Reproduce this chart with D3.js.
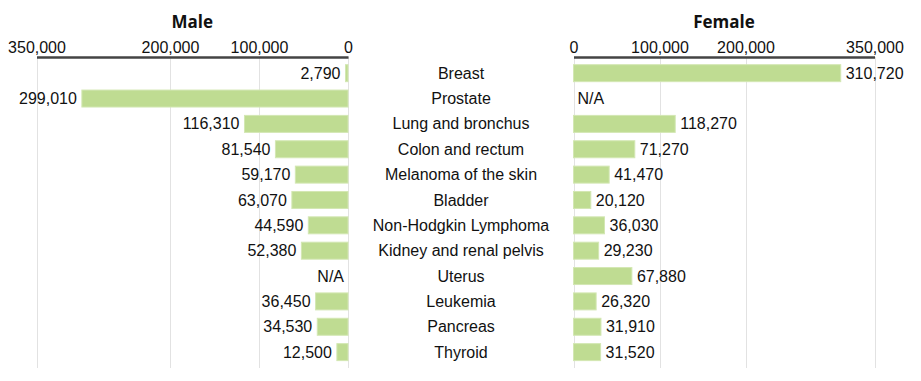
<!DOCTYPE html>
<html><head><meta charset="utf-8">
<script src="https://cdn.jsdelivr.net/npm/d3@7"></script>
<style>body{margin:0;background:#fff}svg{display:block}</style>
</head><body>
<script>
const categories = ["Breast","Prostate","Lung and bronchus","Colon and rectum","Melanoma of the skin","Bladder","Non-Hodgkin Lymphoma","Kidney and renal pelvis","Uterus","Leukemia","Pancreas","Thyroid"];
const maleValues = [2790,299010,116310,81540,59170,63070,44590,52380,null,36450,34530,12500];
const femaleValues = [310720,null,118270,71270,41470,20120,36030,29230,67880,26320,31910,31520];
const tickValues = [0,100000,200000,350000];

const W=921,H=381;
const svg=d3.select("body").append("svg").attr("width",W).attr("height",H);
const fmt=d3.format(",");
const font="Liberation Sans, Arial, sans-serif";
const fs="16px";

const y=d3.scaleBand().domain(categories).range([60.5,364.8]).paddingInner(0.33).paddingOuter(0.165);
const xm=d3.scaleLinear().domain([0,350000]).range([348,36.5]);
const xf=d3.scaleLinear().domain([0,350000]).range([573.5,874.5]);
const gridTop=57,gridBot=368;

function side(x,vals,title,dir){
  const g=svg.append("g");
  g.selectAll("line.grid").data(tickValues).join("line")
    .attr("x1",d=>Math.round(x(d))+0.5).attr("x2",d=>Math.round(x(d))+0.5)
    .attr("y1",gridTop).attr("y2",gridBot).attr("stroke","#e2e2e2").attr("stroke-width",1);
  const data=categories.map((c,i)=>({c,v:vals[i]}));
  g.selectAll("rect").data(data.filter(d=>d.v!=null)).join("rect")
    .attr("x",d=>Math.min(x(0),x(d.v))).attr("width",d=>Math.abs(x(d.v)-x(0)))
    .attr("y",d=>y(d.c)).attr("height",y.bandwidth())
    .attr("fill","#bfdc92").attr("stroke","#d3e7b3").attr("stroke-width",1);
  g.selectAll("text.val").data(data).join("text")
    .attr("x",d=>d.v==null? x(0)+dir*4 : x(d.v)+dir*5)
    .attr("y",d=>y(d.c)+y.bandwidth()/2).attr("dy","0.35em")
    .attr("text-anchor",dir<0?"end":"start")
    .style("font-family",font).style("font-size",fs).attr("fill","#111")
    .text(d=>d.v==null?"N/A":fmt(d.v));
  const ax=d3.axisTop(x).tickValues(tickValues).tickFormat(fmt).tickSize(0).tickPadding(4);
  const a=svg.append("g").attr("transform","translate(0,57)").call(ax);
  a.select(".domain").attr("stroke","#444").attr("stroke-width",2.5);
  a.selectAll("text").style("font-family",font).style("font-size",fs).attr("fill","#111");
  svg.append("text").attr("x",(x.range()[0]+x.range()[1])/2).attr("y",28)
    .attr("text-anchor","middle").style("font-family","Open Sans, sans-serif")
    .style("font-weight","bold").style("font-size","17px").attr("fill","#111").text(title);
}
side(xm,maleValues,"Male",-1);
side(xf,femaleValues,"Female",1);

svg.append("g").selectAll("text").data(categories).join("text")
  .attr("x",461).attr("y",d=>y(d)+y.bandwidth()/2).attr("dy","0.35em")
  .attr("text-anchor","middle").style("font-family",font).style("font-size",fs).attr("fill","#111")
  .text(d=>d);
</script>
</body></html>
